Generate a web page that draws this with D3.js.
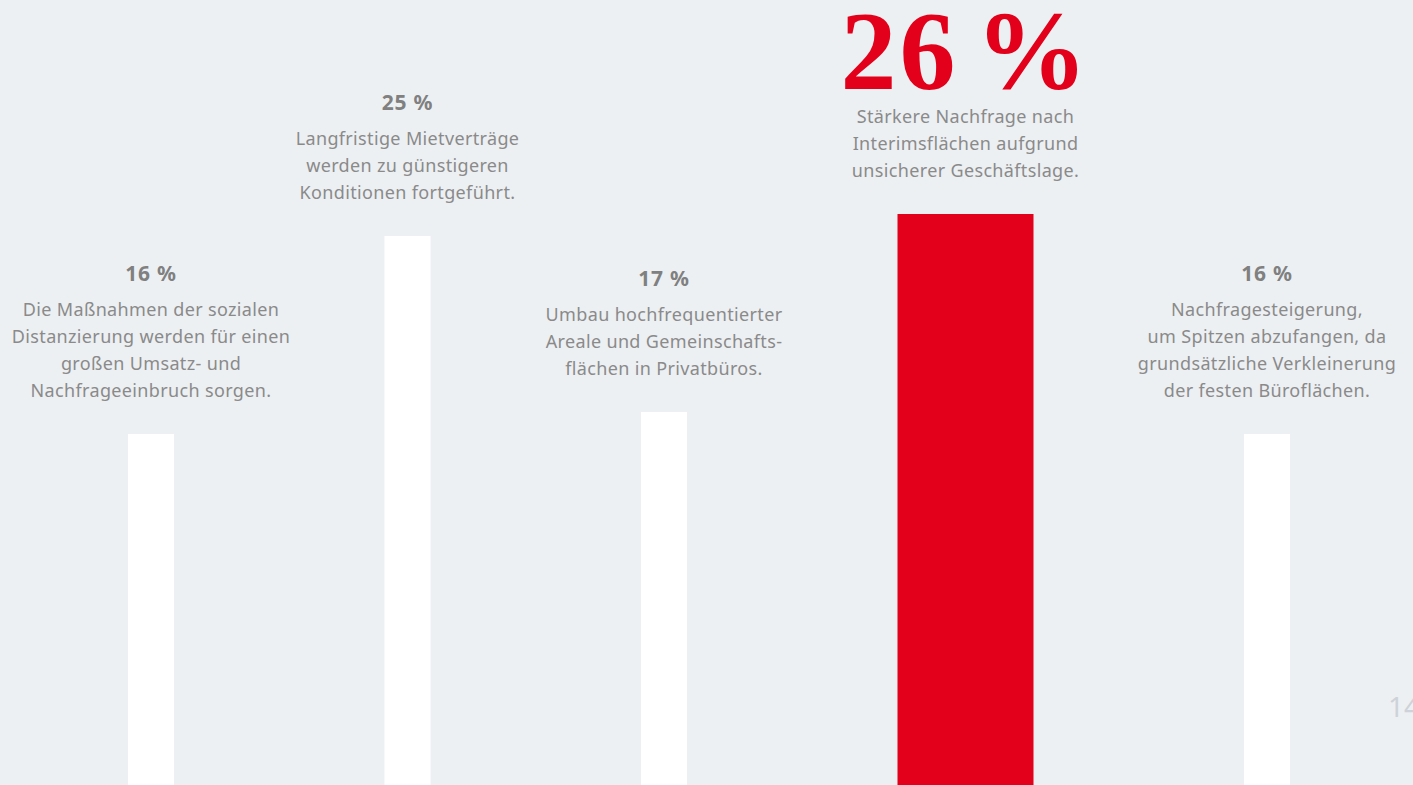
<!DOCTYPE html>
<html><head><meta charset="utf-8">
<script src="https://cdn.jsdelivr.net/npm/d3@7"></script>
<style>
html,body{margin:0;padding:0;background:#edf0f3;overflow:hidden}
svg{display:block}
</style></head>
<body>
<svg id="chart" width="1413" height="785"></svg>
<script>
const categories = ["A", "B", "C", "D", "E"];
const values = [16, 25, 17, 26, 16];
const valueLabels = ["16 %", "25 %", "17 %", "26 %", "16 %"];
const highlighted = "D";
const descriptions = [
  ["Die Maßnahmen der sozialen", "Distanzierung werden für einen", "großen Umsatz- und", "Nachfrageeinbruch sorgen."],
  ["Langfristige Mietverträge", "werden zu günstigeren", "Konditionen fortgeführt."],
  ["Umbau hochfrequentierter", "Areale und Gemeinschafts-", "flächen in Privatbüros."],
  ["Stärkere Nachfrage nach", "Interimsflächen aufgrund", "unsicherer Geschäftslage."],
  ["Nachfragesteigerung,", "um Spitzen abzufangen, da", "grundsätzliche Verkleinerung", "der festen Büroflächen."]
];
const pageNumber = "14";

const W = 1413, H = 785;
const narrowW = 46, wideW = 136, gap = 210.5;
const svg = d3.select("#chart");
const sansFont = "'Noto Sans', 'Open Sans', sans-serif";

const y = d3.scaleLinear().domain([0, 26]).range([786, 214]);

const step = narrowW + gap;
const x = d3.scaleBand().domain(categories)
  .range([128, 128 + step * (categories.length - 1) + narrowW])
  .paddingInner(gap / step).paddingOuter(0);

const hiIdx = categories.indexOf(highlighted);
const data = categories.map((c, i) => ({
  cat: c, value: values[i], label: valueLabels[i], lines: descriptions[i],
  hi: c === highlighted,
  left: x(c) + (i > hiIdx ? wideW - narrowW : 0),
  width: c === highlighted ? wideW : narrowW
}));

svg.selectAll("rect.bar").data(data).join("rect")
  .attr("class", "bar")
  .attr("x", d => d.left)
  .attr("width", d => d.width)
  .attr("y", d => y(d.value))
  .attr("height", d => y(0) - y(d.value))
  .attr("fill", d => d.hi ? "#e2001a" : "#ffffff");

const lineH = 26.8;
const groups = svg.selectAll("g.ann").data(data).join("g").attr("class", "ann")
  .attr("transform", d => `translate(${d.left + d.width / 2},${y(d.value) - 38})`);

groups.each(function(d) {
  const g = d3.select(this);
  const n = d.lines.length;
  g.selectAll("text.desc").data(d.lines).join("text")
    .attr("class", "desc")
    .attr("x", 0)
    .attr("y", (l, i) => -(n - 1 - i) * lineH + 0.5)
    .attr("text-anchor", "middle")
    .attr("font-family", sansFont)
    .attr("font-size", 18)
    .attr("letter-spacing", 0.35)
    .attr("fill", "#8a8a8a")
    .text(l => l);
  const topY = -(n - 1) * lineH - 35;
  if (d.hi) {
    g.append("text")
      .attr("x", 0).attr("y", topY + 1.5)
      .attr("text-anchor", "middle")
      .attr("font-family", "'Liberation Serif', 'DejaVu Serif', serif")
      .attr("font-weight", "bold")
      .attr("font-size", 112)
      .attr("letter-spacing", 3)
      .attr("word-spacing", -14)
      .attr("fill", "#e2001a")
      .text(d.label);
  } else {
    g.append("text")
      .attr("x", 0).attr("y", topY + 0.5)
      .attr("text-anchor", "middle")
      .attr("font-family", sansFont)
      .attr("font-weight", "bold")
      .attr("font-size", 21)
      .attr("letter-spacing", 0.8)
      .attr("fill", "#808080")
      .text(d.label);
  }
});

svg.append("text")
  .attr("x", 1388).attr("y", 717)
  .attr("font-family", sansFont)
  .attr("font-size", 28)
  .attr("fill", "#cdd3d9")
  .text(pageNumber);
</script>
</body></html>
